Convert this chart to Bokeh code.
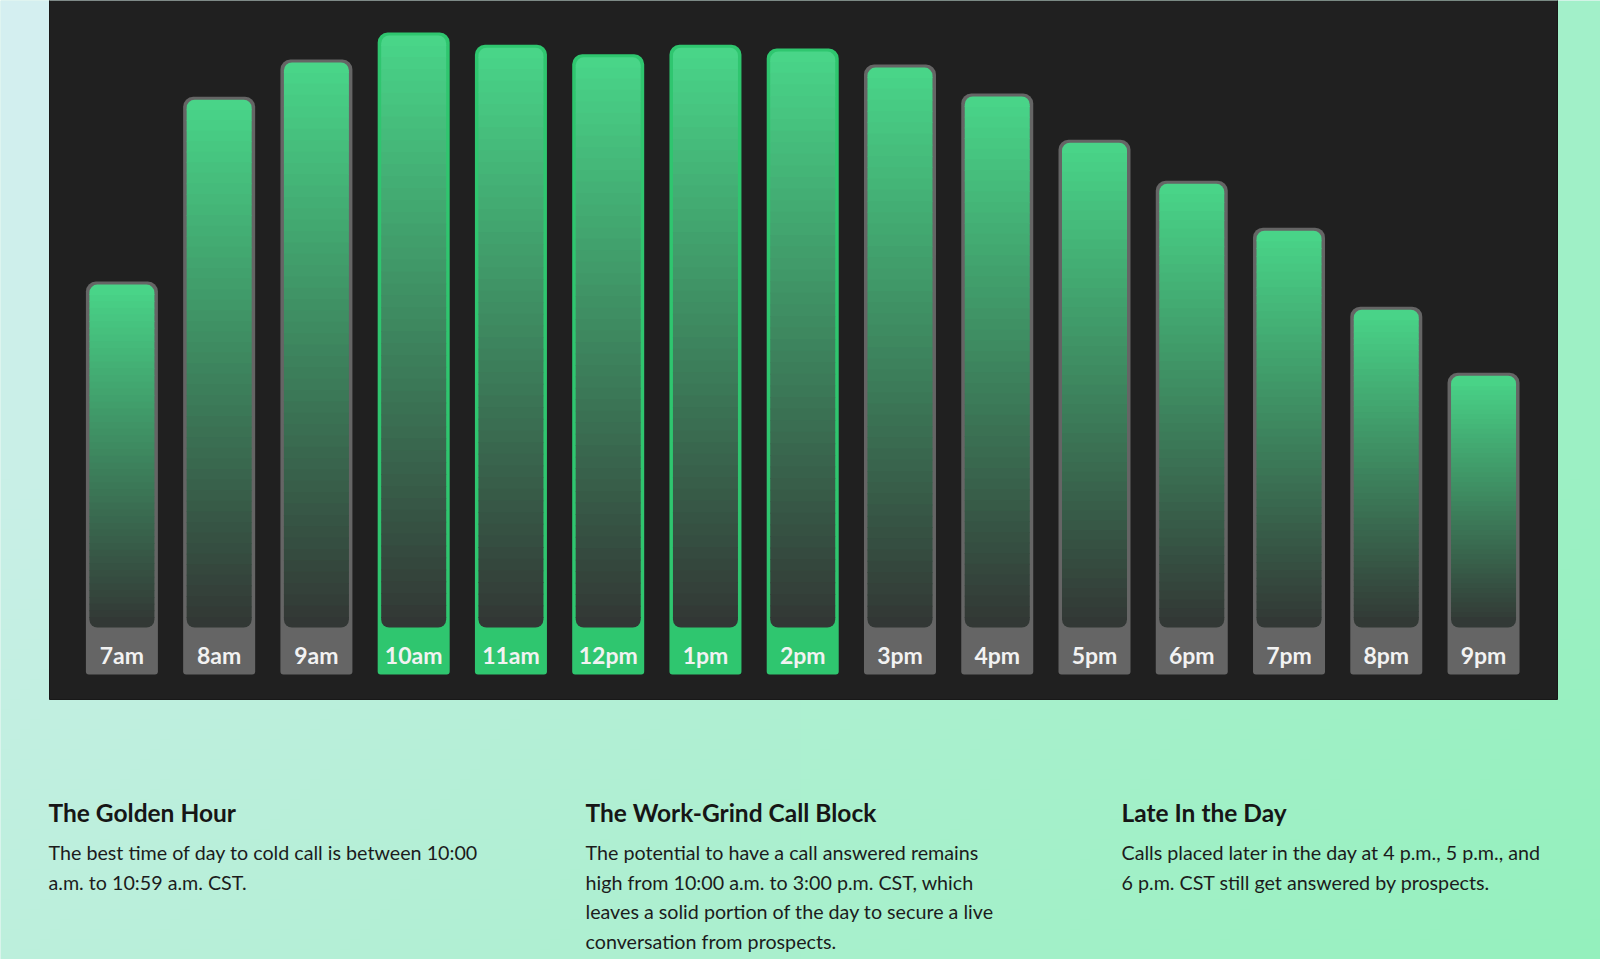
import numpy as np
from bokeh.plotting import figure
from bokeh.models import Range1d, ColumnDataSource
from bokeh.embed import file_html
from bokeh.resources import INLINE
from bokeh.core.properties import value

# ---------------- data ----------------
hours = ["7am", "8am", "9am", "10am", "11am", "12pm", "1pm", "2pm",
         "3pm", "4pm", "5pm", "6pm", "7pm", "8pm", "9pm"]
# relative call-answer index (10am = 100)
answer_index = [61.2, 90.0, 95.8, 100.0, 98.1, 96.6, 98.1, 97.5,
                95.0, 90.5, 83.3, 76.9, 69.6, 57.3, 47.0]
highlight_hours = ["10am", "11am", "12pm", "1pm", "2pm"]

headings = ["The Golden Hour", "The Work-Grind Call Block", "Late In the Day"]
bodies = [
    ["The best time of day to cold call is between 10:00",
     "a.m. to 10:59 a.m. CST."],
    ["The potential to have a call answered remains",
     "high from 10:00 a.m. to 3:00 p.m. CST, which",
     "leaves a solid portion of the day to secure a live",
     "conversation from prospects."],
    ["Calls placed later in the day at 4 p.m., 5 p.m., and",
     "6 p.m. CST still get answered by prospects."],
]

# ---------------- layout constants ----------------
W, H = 1600, 959
X0PX = 121.4      # pixel centre of first bar
STEP = 97.26      # pixels per hour slot
BASE = 674        # pixel row of bar baseline (from top)
PXU = 6.42        # pixels per index unit


def X(px):
    return (px - X0PX) / STEP


def Y(py):
    return (BASE - py) / PXU


p = figure(width=W, height=H, output_backend="svg", toolbar_location=None,
           x_range=Range1d(X(0), X(W)), y_range=Range1d(Y(H), Y(0)),
           x_axis_type=None, y_axis_type=None,
           min_border=0, min_border_left=0, min_border_right=0,
           min_border_top=0, min_border_bottom=0)
p.grid.visible = False
p.outline_line_color = None
p.background_fill_color = "#c8eee4"
p.border_fill_color = "#c8eee4"

# ---------------- page background gradient ----------------
ny, nx = 96, 160
u = np.linspace(0, 1, nx)[None, :]
v = np.linspace(0, 1, ny)[:, None]   # row 0 = bottom
TL = (0xd5, 0xef, 0xf1)
TR = (0xa2, 0xf0, 0xc9)
BL = (0xbc, 0xef, 0xdc)
BR = (0x94, 0xf0, 0xbd)
img = np.zeros((ny, nx), dtype=np.uint32)
view = img.view(dtype=np.uint8).reshape((ny, nx, 4))
for c in range(3):
    ch = (1 - v) * (BL[c] * (1 - u) + BR[c] * u) + v * (TL[c] * (1 - u) + TR[c] * u)
    view[:, :, c] = np.clip(np.round(ch), 0, 255).astype(np.uint8)
view[:, :, 3] = 255
p.image_rgba(image=[img], x=X(0), y=Y(H), dw=X(W) - X(0), dh=Y(0) - Y(H))

# ---------------- dark panel ----------------
p.quad(left=X(49), right=X(1557), bottom=Y(699), top=Y(-2),
       fill_color="#202020", line_color="#181818", line_width=1)


def rquad(radius, **kw):
    try:
        return p.quad(border_radius=radius, **kw)
    except AttributeError:
        return p.quad(**kw)


# ---------------- bars ----------------
idx = list(range(len(hours)))
is_hi = [h in highlight_hours for h in hours]
outer_col = ["#2fc66f" if hi else "#656565" for hi in is_hi]
half_outer = 36 / STEP
half_inner = 32.5 / STEP

outer_src = ColumnDataSource(dict(
    left=[i - half_outer for i in idx], right=[i + half_outer for i in idx],
    bottom=[0] * len(idx), top=answer_index, color=outer_col))
rquad((10, 10, 3, 3), left="left", right="right", bottom="bottom", top="top",
      source=outer_src, fill_color="color", line_color=None)

# gradient inside each bar, built from horizontal strips
TOPC = np.array([73, 214, 137])
BOTC = np.array([50, 54, 52])
INNER_BOTTOM_PX = 627
CAP = 10
NSTRIP = 48


def col(f):
    c = TOPC * (1 - f) + BOTC * f
    return "#%02x%02x%02x" % tuple(int(round(x)) for x in c)


caps_top = dict(left=[], right=[], bottom=[], top=[], color=[])
caps_bot = dict(left=[], right=[], bottom=[], top=[], color=[])
mids = dict(left=[], right=[], bottom=[], top=[], color=[])
for i, val in zip(idx, answer_index):
    top_px = BASE - val * PXU + 3
    bot_px = INNER_BOTTOM_PX
    span = bot_px - top_px
    l, r = i - half_inner, i + half_inner
    caps_top["left"].append(l); caps_top["right"].append(r)
    caps_top["top"].append(Y(top_px)); caps_top["bottom"].append(Y(top_px + CAP + 0.5))
    caps_top["color"].append(col((CAP / 2) / span))
    caps_bot["left"].append(l); caps_bot["right"].append(r)
    caps_bot["top"].append(Y(bot_px - CAP - 0.5)); caps_bot["bottom"].append(Y(bot_px))
    caps_bot["color"].append(col(1 - (CAP / 2) / span))
    m0, m1 = top_px + CAP, bot_px - CAP
    edges = np.linspace(m0, m1, NSTRIP + 1)
    for a, b in zip(edges[:-1], edges[1:]):
        mids["left"].append(l); mids["right"].append(r)
        mids["top"].append(Y(a - 0.4)); mids["bottom"].append(Y(b + 0.4))
        mids["color"].append(col(((a + b) / 2 - top_px) / span))

p.quad(left="left", right="right", bottom="bottom", top="top",
       source=ColumnDataSource(mids), fill_color="color", line_color=None)
rquad((8, 8, 0, 0), left="left", right="right", bottom="bottom", top="top",
      source=ColumnDataSource(caps_top), fill_color="color", line_color=None)
rquad((0, 0, 8, 8), left="left", right="right", bottom="bottom", top="top",
      source=ColumnDataSource(caps_bot), fill_color="color", line_color=None)

# hour labels
p.text(x=idx, y=[Y(654)] * len(idx), text=hours,
       text_font=value("Lato"), text_font_style="bold", text_font_size="23px",
       text_color="#f2f2f2", text_align="center", text_baseline="alphabetic")

# ---------------- captions below ----------------
col_x = [48, 585, 1121]
head_base = 811.5
body_base0 = 852
line_step = 29.6
for cx, head, lines in zip(col_x, headings, bodies):
    p.text(x=[X(cx)], y=[Y(head_base)], text=[head],
           text_font=value("Lato"), text_font_style="bold", text_font_size="24.5px",
           text_color="#161616", text_align="left", text_baseline="alphabetic")
    p.text(x=[X(cx)] * len(lines),
           y=[Y(body_base0 + k * line_step) for k in range(len(lines))],
           text=lines, text_font=value("Lato"), text_font_size="19.7px",
           text_color="#1c1c1c", text_align="left", text_baseline="alphabetic")

open("out.html", "w").write(file_html(p, INLINE))
